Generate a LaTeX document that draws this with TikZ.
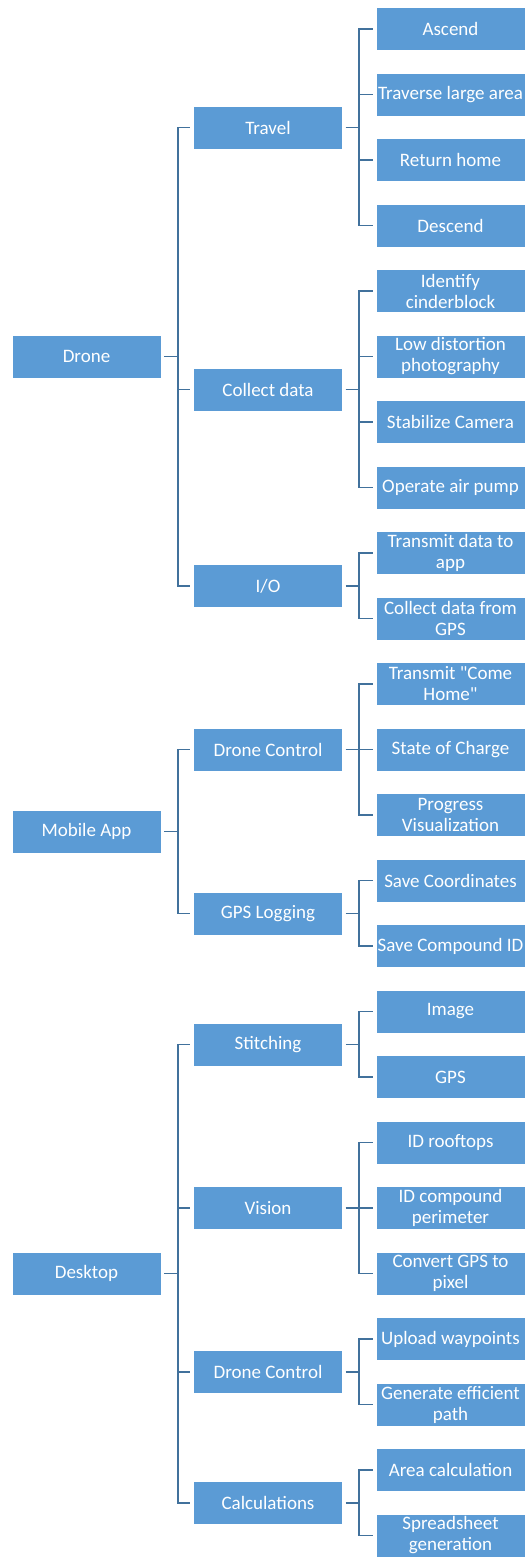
\documentclass[tikz,border=0pt]{standalone}
\usepackage{fontspec}
\setmainfont{Carlito}[Ligatures=TeXOff]
\definecolor{boxblue}{HTML}{5B9BD5}
\definecolor{linkblue}{HTML}{41719C}

\begin{document}
\begin{tikzpicture}[
    % One unit is one pixel of the page, y runs downwards
    x=1pt, y=-1pt,
    % Define styles for the elements
    box_style/.style={rectangle, fill=boxblue, draw=white, line width=0.6pt,
      minimum width=149pt, minimum height=43pt, inner sep=1pt,
      align=center, text=white, font=\fontsize{19}{21}\selectfont},
    link_style/.style={draw=linkblue, line width=1.8pt,
      shorten <=3pt, shorten >=3pt}
  ]

  % --- Step 1: Fix the page size ---
  \useasboundingbox (0,0) rectangle (526,1558);

  % --- Step 2: The three top level blocks ---
  \node[box_style] (drone)   at (86.5, 356.5)  {Drone};
  \node[box_style] (mobile)  at (86.5, 831.5)  {Mobile App};
  \node[box_style] (desktop) at (86.5, 1273.5) {Desktop};

  % --- Step 3: The sub functions ---
  \node[box_style] (travel)   at (268, 127.5)  {Travel};
  \node[box_style] (collect)  at (268, 389.5)  {Collect data};
  \node[box_style] (io)       at (268, 586)    {I/O};
  \node[box_style] (appctrl)  at (268, 749.5)  {Drone Control};
  \node[box_style] (gpslog)   at (268, 913.5)  {GPS Logging};
  \node[box_style] (stitch)   at (268, 1044.5) {Stitching};
  \node[box_style] (vision)   at (268, 1208)   {Vision};
  \node[box_style] (deskctrl) at (268, 1372)   {Drone Control};
  \node[box_style] (calc)     at (268, 1503)   {Calculations};

  % --- Step 4: The leaves, one every 65.5 px ---
  \node[box_style] (ascend)    at (450.5, 29)     {Ascend};
  \node[box_style] (traverse)  at (450.5, 94.5)   {Traverse large area};
  \node[box_style] (rethome)   at (450.5, 160)    {Return home};
  \node[box_style] (descend)   at (450.5, 225.5)  {Descend};
  \node[box_style] (cinder)    at (450.5, 291)    {Identify\\cinderblock};
  \node[box_style] (lowdist)   at (450.5, 356.5)  {Low distortion\\photography};
  \node[box_style] (stabilize) at (450.5, 422)    {Stabilize Camera};
  \node[box_style] (airpump)   at (450.5, 487.5)  {Operate air pump};
  \node[box_style] (txdata)    at (450.5, 553)    {Transmit data to\\app};
  \node[box_style] (gpsdata)   at (450.5, 618.5)  {Collect data from\\GPS};
  \node[box_style] (comehome)  at (450.5, 684)    {Transmit "Come\\Home"};
  \node[box_style] (charge)    at (450.5, 749.5)  {State of Charge};
  \node[box_style] (progress)  at (450.5, 815)    {Progress\\Visualization};
  \node[box_style] (savecoord) at (450.5, 880.5)  {Save Coordinates};
  \node[box_style] (savecid)   at (450.5, 946)    {Save Compound ID};
  \node[box_style] (image)     at (450.5, 1011.5) {Image};
  \node[box_style] (gps)       at (450.5, 1077)   {GPS};
  \node[box_style] (rooftops)  at (450.5, 1142.5) {ID rooftops};
  \node[box_style] (perimeter) at (450.5, 1208)   {ID compound\\perimeter};
  \node[box_style] (gpspixel)  at (450.5, 1273.5) {Convert GPS to\\pixel};
  \node[box_style] (waypoints) at (450.5, 1339)   {Upload waypoints};
  \node[box_style] (effpath)   at (450.5, 1404.5) {Generate efficient\\path};
  \node[box_style] (area)      at (450.5, 1470)   {Area calculation};
  \node[box_style] (sheet)     at (450.5, 1535.5) {Spreadsheet\\generation};

  % --- Step 5: Elbow links from the top level ---
  \draw[link_style] (drone.east) -- ++(17,0) |- (travel.west);
  \draw[link_style] (drone.east) -- ++(17,0) |- (collect.west);
  \draw[link_style] (drone.east) -- ++(17,0) |- (io.west);

  \draw[link_style] (mobile.east) -- ++(17,0) |- (appctrl.west);
  \draw[link_style] (mobile.east) -- ++(17,0) |- (gpslog.west);

  \draw[link_style] (desktop.east) -- ++(17,0) |- (stitch.west);
  \draw[link_style] (desktop.east) -- ++(17,0) |- (vision.west);
  \draw[link_style] (desktop.east) -- ++(17,0) |- (deskctrl.west);
  \draw[link_style] (desktop.east) -- ++(17,0) |- (calc.west);

  % --- Step 6: Elbow links to the leaves ---
  \draw[link_style] (travel.east) -- ++(16,0) |- (ascend.west);
  \draw[link_style] (travel.east) -- ++(16,0) |- (traverse.west);
  \draw[link_style] (travel.east) -- ++(16,0) |- (rethome.west);
  \draw[link_style] (travel.east) -- ++(16,0) |- (descend.west);

  \draw[link_style] (collect.east) -- ++(16,0) |- (cinder.west);
  \draw[link_style] (collect.east) -- ++(16,0) |- (lowdist.west);
  \draw[link_style] (collect.east) -- ++(16,0) |- (stabilize.west);
  \draw[link_style] (collect.east) -- ++(16,0) |- (airpump.west);

  \draw[link_style] (io.east) -- ++(16,0) |- (txdata.west);
  \draw[link_style] (io.east) -- ++(16,0) |- (gpsdata.west);

  \draw[link_style] (appctrl.east) -- ++(16,0) |- (comehome.west);
  \draw[link_style] (appctrl.east) -- ++(16,0) |- (charge.west);
  \draw[link_style] (appctrl.east) -- ++(16,0) |- (progress.west);

  \draw[link_style] (gpslog.east) -- ++(16,0) |- (savecoord.west);
  \draw[link_style] (gpslog.east) -- ++(16,0) |- (savecid.west);

  \draw[link_style] (stitch.east) -- ++(16,0) |- (image.west);
  \draw[link_style] (stitch.east) -- ++(16,0) |- (gps.west);

  \draw[link_style] (vision.east) -- ++(16,0) |- (rooftops.west);
  \draw[link_style] (vision.east) -- ++(16,0) |- (perimeter.west);
  \draw[link_style] (vision.east) -- ++(16,0) |- (gpspixel.west);

  \draw[link_style] (deskctrl.east) -- ++(16,0) |- (waypoints.west);
  \draw[link_style] (deskctrl.east) -- ++(16,0) |- (effpath.west);

  \draw[link_style] (calc.east) -- ++(16,0) |- (area.west);
  \draw[link_style] (calc.east) -- ++(16,0) |- (sheet.west);

\end{tikzpicture}
\end{document}
